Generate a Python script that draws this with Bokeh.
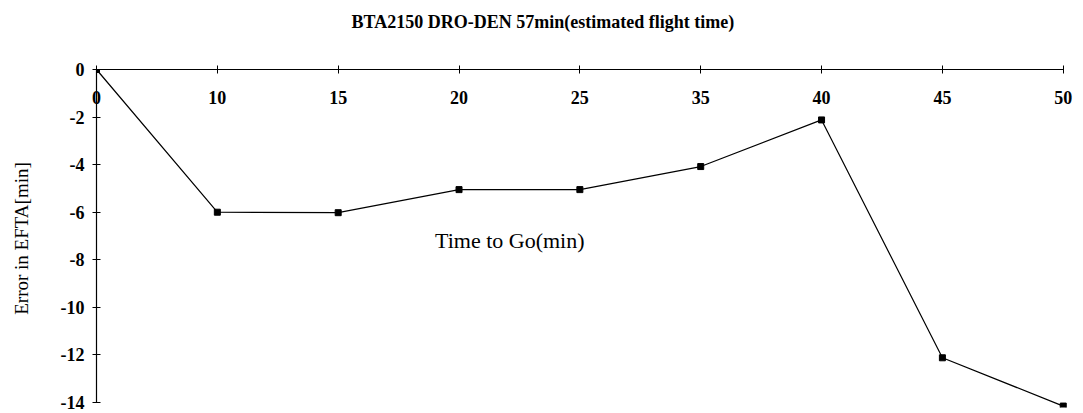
from bokeh.plotting import figure
from bokeh.models import LinearAxis, FixedTicker, Range1d, Label, ColumnDataSource
from bokeh.embed import file_html
from bokeh.resources import INLINE

# ---- data ----
time_labels = ["0", "10", "15", "20", "25", "35", "40", "45", "50"]
efta_error = [0.0, -6.0, -6.02, -5.05, -5.05, -4.08, -2.12, -12.12, -14.15]
y_ticks = [0, -2, -4, -6, -8, -10, -12, -14]
title_text = "BTA2150 DRO-DEN 57min(estimated flight time)"
x_title = "Time to Go(min)"
y_title = "Error in EFTA[min]"

idx = list(range(len(time_labels)))
src = ColumnDataSource(dict(x=idx, y=efta_error))

SERIF = "Liberation Serif"

p = figure(width=1080, height=413, output_backend="svg", toolbar_location=None,
           x_range=Range1d(0, len(time_labels) - 1 + 0.06),
           y_range=Range1d(min(y_ticks) - 0.21, max(y_ticks)),
           x_axis_location=None, y_axis_location="left",
           min_border_left=96, min_border_right=10, min_border_top=69, min_border_bottom=6)

p.outline_line_color = None
p.grid.visible = False
p.background_fill_color = "white"
p.border_fill_color = "white"

# title
p.title.text = title_text
p.title.align = "left"
p.title.offset = 255
p.title.vertical_align = "bottom"
p.title.standoff = 10
p.title.padding = dict(left=0, right=0, top=0, bottom=33)
p.title.text_font = SERIF
p.title.text_font_style = "bold"
p.title.text_font_size = "18px"
p.title.text_color = "black"

# y axis
ya = p.yaxis[0]
ya.ticker = FixedTicker(ticks=y_ticks)
ya.bounds = (min(y_ticks), max(y_ticks))
ya.major_label_overrides = {t: str(t) for t in y_ticks}
ya.minor_tick_line_color = None
ya.major_tick_in = 4
ya.major_tick_out = 4
ya.major_label_standoff = 8
ya.major_label_text_font = SERIF
ya.major_label_text_font_style = "bold"
ya.major_label_text_font_size = "18px"
ya.major_label_text_color = "black"
ya.axis_line_width = 1.2
ya.axis_label = y_title
ya.axis_label_text_font = SERIF
ya.axis_label_text_font_style = "normal"
ya.axis_label_text_font_size = "19px"
ya.axis_label_text_color = "black"
ya.axis_label_standoff = 26

# x axis at y=0 (top), labels below the line
xa = LinearAxis(ticker=FixedTicker(ticks=idx), bounds=(0, len(time_labels) - 1),
                major_label_overrides={i: t for i, t in zip(idx, time_labels)})
xa.minor_tick_line_color = None
xa.major_tick_in = 4
xa.major_tick_out = 4
xa.major_label_standoff = -38
xa.major_label_text_font = SERIF
xa.major_label_text_font_style = "bold"
xa.major_label_text_font_size = "18px"
xa.major_label_text_color = "black"
xa.axis_line_width = 1.2
p.add_layout(xa, "above")

# series
p.line("x", "y", source=src, line_color="black", line_width=1.2)
p.scatter("x", "y", source=src, marker="square", size=6, fill_color="black", line_color="black")

# x title inside plot
p.add_layout(Label(x=3.42, y=-7.2, text=x_title, text_font=SERIF, text_font_size="22px",
                   text_align="center", text_baseline="middle", text_color="black"))

open("out.html", "w").write(file_html(p, INLINE))
